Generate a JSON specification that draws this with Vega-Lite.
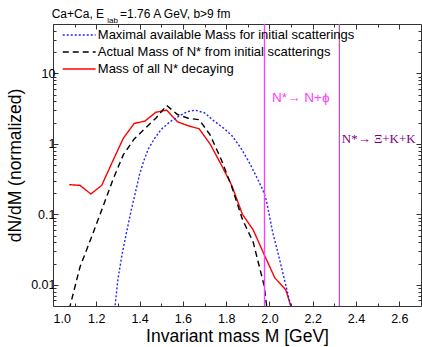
{
  "$schema": "https://vega.github.io/schema/vega-lite/v6.json",
  "width": 368,
  "height": 282,
  "autosize": "none",
  "padding": {"left": 53, "top": 24, "right": 1, "bottom": 41},
  "config": {
    "view": {"stroke": "#333", "strokeWidth": 1},
    "font": "Liberation Sans",
    "axis": {"grid": false, "domain": false, "tickColor": "#333", "labelColor": "#000", "titleColor": "#000", "labelFont": "Liberation Sans", "titleFont": "Liberation Sans", "titleFontWeight": "normal", "labelFontSize": 12.5, "titleFontSize": 17.5}
  },
  "datasets": {
    "curves": [
      {"series": "all", "M": 1.075, "v": 0.263},
      {"series": "all", "M": 1.125, "v": 0.257},
      {"series": "all", "M": 1.175, "v": 0.194},
      {"series": "all", "M": 1.225, "v": 0.257},
      {"series": "all", "M": 1.275, "v": 0.56},
      {"series": "all", "M": 1.325, "v": 1.2},
      {"series": "all", "M": 1.375, "v": 1.94},
      {"series": "all", "M": 1.425, "v": 2.1},
      {"series": "all", "M": 1.475, "v": 2.8},
      {"series": "all", "M": 1.525, "v": 3.0},
      {"series": "all", "M": 1.575, "v": 2.05},
      {"series": "all", "M": 1.625, "v": 1.8},
      {"series": "all", "M": 1.675, "v": 1.63},
      {"series": "all", "M": 1.725, "v": 1.0},
      {"series": "all", "M": 1.775, "v": 0.52},
      {"series": "all", "M": 1.825, "v": 0.26},
      {"series": "all", "M": 1.875, "v": 0.1},
      {"series": "all", "M": 1.925, "v": 0.06},
      {"series": "all", "M": 1.975, "v": 0.027},
      {"series": "all", "M": 2.025, "v": 0.0125},
      {"series": "all", "M": 2.075, "v": 0.0085},
      {"series": "all", "M": 2.125, "v": 0.0028},
      {"series": "act", "M": 1.075, "v": 0.0045},
      {"series": "act", "M": 1.125, "v": 0.018},
      {"series": "act", "M": 1.175, "v": 0.045},
      {"series": "act", "M": 1.225, "v": 0.115},
      {"series": "act", "M": 1.275, "v": 0.3},
      {"series": "act", "M": 1.325, "v": 0.7},
      {"series": "act", "M": 1.375, "v": 1.17},
      {"series": "act", "M": 1.425, "v": 1.65},
      {"series": "act", "M": 1.475, "v": 2.3},
      {"series": "act", "M": 1.525, "v": 3.5},
      {"series": "act", "M": 1.575, "v": 2.6},
      {"series": "act", "M": 1.625, "v": 2.3},
      {"series": "act", "M": 1.675, "v": 2.2},
      {"series": "act", "M": 1.725, "v": 1.35},
      {"series": "act", "M": 1.775, "v": 0.62},
      {"series": "act", "M": 1.825, "v": 0.25},
      {"series": "act", "M": 1.875, "v": 0.085},
      {"series": "act", "M": 1.925, "v": 0.04},
      {"series": "act", "M": 1.975, "v": 0.0098},
      {"series": "act", "M": 2.025, "v": 0.0006},
      {"series": "max", "M": 1.285, "v": 0.0045},
      {"series": "max", "M": 1.3, "v": 0.012},
      {"series": "max", "M": 1.32, "v": 0.028},
      {"series": "max", "M": 1.34, "v": 0.056},
      {"series": "max", "M": 1.36, "v": 0.11},
      {"series": "max", "M": 1.38, "v": 0.2},
      {"series": "max", "M": 1.4, "v": 0.37},
      {"series": "max", "M": 1.42, "v": 0.58},
      {"series": "max", "M": 1.44, "v": 0.84},
      {"series": "max", "M": 1.47, "v": 1.2},
      {"series": "max", "M": 1.5, "v": 1.6},
      {"series": "max", "M": 1.54, "v": 2.05},
      {"series": "max", "M": 1.58, "v": 2.45},
      {"series": "max", "M": 1.62, "v": 2.85},
      {"series": "max", "M": 1.655, "v": 3.0},
      {"series": "max", "M": 1.7, "v": 2.75},
      {"series": "max", "M": 1.74, "v": 2.15},
      {"series": "max", "M": 1.79, "v": 1.65},
      {"series": "max", "M": 1.83, "v": 1.27},
      {"series": "max", "M": 1.87, "v": 0.85},
      {"series": "max", "M": 1.91, "v": 0.52},
      {"series": "max", "M": 1.94, "v": 0.34},
      {"series": "max", "M": 1.97, "v": 0.22},
      {"series": "max", "M": 1.985, "v": 0.16},
      {"series": "max", "M": 2.0, "v": 0.095},
      {"series": "max", "M": 2.015, "v": 0.055},
      {"series": "max", "M": 2.035, "v": 0.032},
      {"series": "max", "M": 2.054, "v": 0.0184},
      {"series": "max", "M": 2.075, "v": 0.01},
      {"series": "max", "M": 2.095, "v": 0.0055},
      {"series": "max", "M": 2.11, "v": 0.0035}
    ],
    "legendRows": [
      {"series": "max", "x1": 1.045, "x2": 1.197, "xt": 1.207, "v": 34.9, "label": "Maximal available Mass for initial scatterings"},
      {"series": "act", "x1": 1.045, "x2": 1.197, "xt": 1.207, "v": 20.0, "label": "Actual Mass of N* from initial scatterings"},
      {"series": "all", "x1": 1.045, "x2": 1.197, "xt": 1.207, "v": 11.5, "label": "Mass of all N* decaying"}
    ],
    "thresholds": [
      {"name": "phi", "M": 1.977, "tx": 2.012, "tv": 4.42, "text": "N*→ N+ϕ"},
      {"name": "xi", "M": 2.323, "tx": 2.334, "tv": 1.17, "text": "N*→ Ξ+K+K"}
    ],
    "titleParts": [
      {"part": "main", "M": 0.994, "v": 61.8, "text": "Ca+Ca, E"},
      {"part": "main", "M": 1.31, "v": 61.8, "text": "=1.76 A GeV, b>9 fm"},
      {"part": "sub", "M": 1.251, "v": 52.5, "text": "lab"}
    ]
  },
  "resolve": {"axis": {"x": "independent", "y": "independent"}},
  "layer": [
    {
      "data": {"name": "curves"},
      "mark": {"type": "line", "clip": true, "strokeWidth": 1.4},
      "encoding": {
        "x": {"field": "M", "type": "quantitative", "scale": {"domain": [1.0, 2.7], "nice": false, "zero": false},
          "axis": {"orient": "bottom", "values": [1.0, 1.2, 1.4, 1.6, 1.8, 2.0, 2.2, 2.4, 2.6], "format": ".1f", "tickSize": -5, "labelPadding": 11, "title": "Invariant mass M [GeV]", "titlePadding": 3}},
        "y": {"field": "v", "type": "quantitative", "scale": {"type": "log", "domain": [0.005, 50], "nice": false},
          "axis": {"orient": "left", "values": [0.01, 0.1, 1, 10], "format": "~g", "tickSize": -5, "labelPadding": 3, "title": "dN/dM (normalized)", "titlePadding": 6}},
        "color": {"field": "series", "type": "nominal", "scale": {"domain": ["max", "act", "all"], "range": ["#2222ff", "#000000", "#ff0000"]}, "legend": null},
        "strokeDash": {"field": "series", "type": "nominal", "scale": {"domain": ["max", "act", "all"], "range": [[2, 2], [6, 4], [1, 0]]}, "legend": null},
        "detail": {"field": "series"}
      }
    },
    {
      "data": {"name": "thresholds"},
      "transform": [{"filter": "datum.name == 'phi'"}],
      "mark": {"type": "rule", "color": "#ff3cff", "strokeWidth": 1.3},
      "encoding": {
        "x": {"field": "M", "type": "quantitative", "axis": {"orient": "bottom", "values": [1.1, 1.3, 1.5, 1.7, 1.9, 2.1, 2.3, 2.5], "labels": false, "tickSize": -3, "title": null}}
      }
    },
    {
      "data": {"name": "thresholds"},
      "transform": [{"filter": "datum.name == 'xi'"}],
      "mark": {"type": "rule", "color": "#b45cb4", "strokeWidth": 1.3},
      "encoding": {
        "x": {"field": "M", "type": "quantitative", "axis": null}
      }
    },
    {
      "data": {"name": "legendRows"},
      "mark": {"type": "rule", "strokeWidth": 1.4},
      "encoding": {
        "x": {"field": "x1", "type": "quantitative", "axis": {"orient": "top", "values": [1.0, 1.2, 1.4, 1.6, 1.8, 2.0, 2.2, 2.4, 2.6], "labels": false, "tickSize": -5, "title": null}},
        "x2": {"field": "x2"},
        "y": {"field": "v", "type": "quantitative", "axis": {"orient": "right", "values": [0.01, 0.1, 1, 10], "labels": false, "tickSize": -5, "title": null}},
        "color": {"field": "series", "type": "nominal", "legend": null},
        "strokeDash": {"field": "series", "type": "nominal", "legend": null}
      }
    },
    {
      "data": {"name": "legendRows"},
      "mark": {"type": "text", "align": "left", "baseline": "middle", "fontSize": 13, "font": "Liberation Sans", "color": "#000"},
      "encoding": {
        "x": {"field": "xt", "type": "quantitative", "axis": {"orient": "top", "values": [1.1, 1.3, 1.5, 1.7, 1.9, 2.1, 2.3, 2.5], "labels": false, "tickSize": -3, "title": null}},
        "y": {"field": "v", "type": "quantitative", "axis": {"orient": "right", "values": [0.006, 0.007, 0.008, 0.009, 0.02, 0.03, 0.04, 0.05, 0.06, 0.07, 0.08, 0.09, 0.2, 0.3, 0.4, 0.5, 0.6, 0.7, 0.8, 0.9, 2, 3, 4, 5, 6, 7, 8, 9, 20, 30, 40], "labels": false, "tickSize": -3, "title": null}},
        "text": {"field": "label"}
      }
    },
    {
      "data": {"name": "titleParts"},
      "transform": [{"filter": "datum.part == 'main'"}],
      "mark": {"type": "text", "align": "left", "baseline": "alphabetic", "fontSize": 12, "font": "Liberation Sans", "color": "#000"},
      "encoding": {
        "x": {"field": "M", "type": "quantitative", "axis": null},
        "y": {"field": "v", "type": "quantitative", "axis": {"orient": "left", "values": [0.006, 0.007, 0.008, 0.009, 0.02, 0.03, 0.04, 0.05, 0.06, 0.07, 0.08, 0.09, 0.2, 0.3, 0.4, 0.5, 0.6, 0.7, 0.8, 0.9, 2, 3, 4, 5, 6, 7, 8, 9, 20, 30, 40], "labels": false, "tickSize": -3, "title": null}},
        "text": {"field": "text"}
      }
    },
    {
      "data": {"name": "titleParts"},
      "transform": [{"filter": "datum.part == 'sub'"}],
      "mark": {"type": "text", "align": "left", "baseline": "alphabetic", "fontSize": 8, "font": "Liberation Sans", "color": "#000"},
      "encoding": {
        "x": {"field": "M", "type": "quantitative", "axis": null},
        "y": {"field": "v", "type": "quantitative", "axis": null},
        "text": {"field": "text"}
      }
    },
    {
      "data": {"name": "thresholds"},
      "transform": [{"filter": "datum.name == 'phi'"}],
      "mark": {"type": "text", "align": "left", "baseline": "middle", "fontSize": 13.5, "font": "Liberation Sans", "color": "#ff3cff"},
      "encoding": {
        "x": {"field": "tx", "type": "quantitative", "axis": null},
        "y": {"field": "tv", "type": "quantitative", "axis": null},
        "text": {"field": "text"}
      }
    },
    {
      "data": {"name": "thresholds"},
      "transform": [{"filter": "datum.name == 'xi'"}],
      "mark": {"type": "text", "align": "left", "baseline": "middle", "fontSize": 13, "font": "Liberation Serif", "color": "#800080"},
      "encoding": {
        "x": {"field": "tx", "type": "quantitative", "axis": null},
        "y": {"field": "tv", "type": "quantitative", "axis": null},
        "text": {"field": "text"}
      }
    }
  ]
}
